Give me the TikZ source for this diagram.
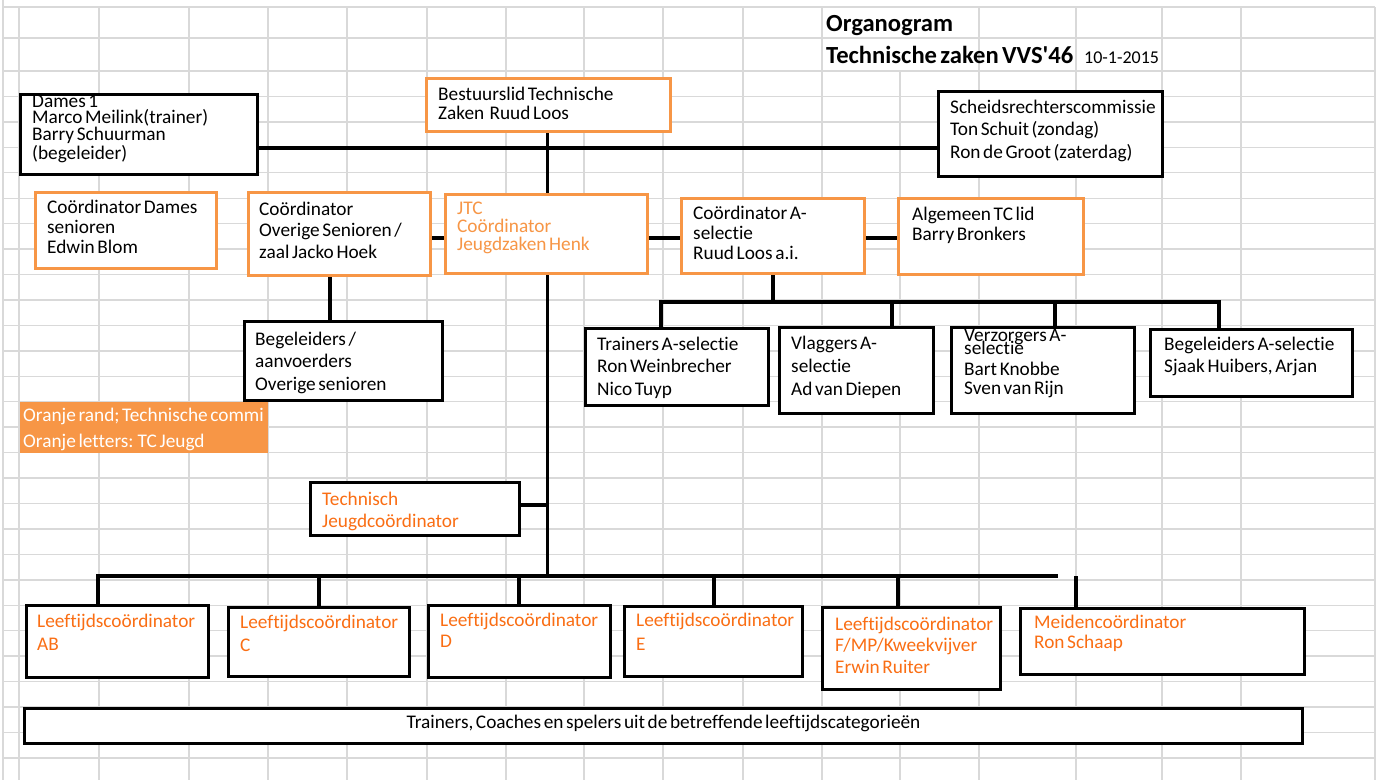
\documentclass[tikz,border=0pt]{standalone}
\usepackage{fontspec}
\setmainfont{Carlito}[WordSpace=0.6, Ligatures=NoCommon]
\definecolor{gridgray}{RGB}{217,217,217}
\definecolor{orgline}{RGB}{247,150,70}
\definecolor{orgtxt}{RGB}{247,150,70}
\definecolor{orgdark}{RGB}{250,110,20}
\definecolor{legendfill}{RGB}{247,150,70}
\newcommand{\tp}{\rule{0pt}{16pt}}
\newcommand{\ebox}[6]{\node[#2, minimum width={#5-#3-3}, minimum height={#6-#4-3}] (#1) at ({(#3+#5)/2},{(#4+#6)/2}) {};}
\begin{document}
\begin{tikzpicture}[x=1pt, y=-1pt,
  gridline/.style={draw=gridgray, line width=1.4pt},
  blk/.style={draw=black, line width=3.2pt, fill=white, inner sep=0pt},
  org/.style={draw=orgline, line width=3pt, fill=white, inner sep=0pt},
  txt/.style={anchor=north west, inner sep=0pt, align=left, font={\fontsize{19.3}{#1}\selectfont\lineskiplimit=-50pt\lineskip=0pt}},
  conn/.style={line width=3.2pt, black}]
\useasboundingbox (0,0) rectangle (1383,780);
\fill[white] (0,0) rectangle (1383,780);
% spreadsheet grid
\foreach \k in {0,...,27} \draw[gridline] (3,{71+25.44*\k}) -- (1375,{71+25.44*\k});
\draw[gridline] (3,7) -- (1375,7);
\draw[gridline] (3,38) -- (1375,38);
\draw[gridline] (3,0) -- (3,780);
\foreach \x in {19,99,189,268,347,427,506,584,663,743,822,979,1076,1162,1241,1375} \draw[gridline] (\x,7) -- (\x,780);
\draw[gridline] (900,71) -- (900,780);

% titles
\node[anchor=base west, inner sep=0pt, font={\fontsize{24.6}{28}\selectfont\bfseries}] (title1) at (826,31) {Organogram};
\node[anchor=base west, inner sep=0pt, font={\fontsize{24.6}{28}\selectfont\bfseries}] (title2) at (826,63) {Technische zaken VVS\textquotesingle 46};
\node[anchor=base west, inner sep=0pt, font={\fontsize{18}{20}\selectfont}] (date) at (1084,63) {10-1-2015};

% boxes
\ebox{dames}{blk}{19}{93}{259}{176}
\ebox{best}{org}{425}{77}{672}{133}
\ebox{scheids}{blk}{937}{90}{1164}{178}
\ebox{cdames}{org}{34}{191}{218}{270}
\ebox{overige}{org}{247}{191}{432}{277}
\ebox{jtc}{org}{444}{193}{649}{275}
\ebox{asel}{org}{680}{197}{866}{275}
\ebox{alg}{org}{897}{197}{1085}{276}
\ebox{begel}{blk}{243}{320}{444}{402}
\ebox{trainers}{blk}{584}{327}{770}{407}
\ebox{vlag}{blk}{778}{326}{935}{415}
\ebox{verz}{blk}{950}{326}{1136}{415}
\ebox{bega}{blk}{1149}{328}{1354}{398}
\node[fill=legendfill, inner sep=0pt, minimum width=248, minimum height=51] (legend) at (144,427.5) {};
\ebox{tjc}{blk}{309}{481}{521}{537}
\ebox{ab}{blk}{25}{604}{210}{679}
\ebox{lc}{blk}{227}{606}{411}{678}
\ebox{ld}{blk}{427}{604}{612}{679}
\ebox{le}{blk}{623}{605}{804}{678}
\ebox{lf}{blk}{821}{606}{1002}{691}
\ebox{meiden}{blk}{1019}{607}{1306}{676}
\ebox{spelers}{blk}{23}{707}{1304}{745}

% connectors
\coordinate (yTop) at (0,148);
\coordinate (yMid) at (0,238);
\coordinate (xMain) at (547.5,0);
\coordinate (bBar) at (0,576);
\draw[conn] (dames.east |- yTop) -- (scheids.west |- yTop);
\draw[conn] (xMain |- best.south) -- (xMain |- jtc.north);
\draw[conn] (xMain |- jtc.south) -- (xMain |- bBar);
\draw[conn] (overige.east |- yMid) -- (jtc.west |- yMid);
\draw[conn] (jtc.east |- yMid) -- (asel.west |- yMid);
\draw[conn] (asel.east |- yMid) -- (alg.west |- yMid);
\coordinate (xBeg) at (330,0);
\draw[conn] (xBeg |- overige.south) -- (xBeg |- begel.north);
\coordinate (aL) at (661,302);
\coordinate (aR) at (1219,302);
\coordinate (aV) at (892,302);
\coordinate (aZ) at (1055,302);
\draw[conn] (asel.south) -- (asel.south |- aL);
\draw[conn] (aL |- trainers.north) -- (aL) -- (aR) -- (aR |- bega.north);
\draw[conn] (aV) -- (aV |- vlag.north);
\draw[conn] (aZ) -- (aZ |- verz.north);
\coordinate (yT) at (0,505);
\draw[conn] (tjc.east |- yT) -- (xMain |- yT);
\coordinate (bL) at (98,576);
\coordinate (bR) at (1058,576);
\coordinate (bC) at (319,576);
\coordinate (bD) at (519,576);
\coordinate (bE) at (714,576);
\coordinate (bF) at (898,576);
\coordinate (bM) at (1076,576);
\draw[conn] (bL |- ab.north) -- (bL) -- (bR);
\draw[conn] (bC) -- (bC |- lc.north);
\draw[conn] (bD) -- (bD |- ld.north);
\draw[conn] (bE) -- (bE |- le.north);
\draw[conn] (bF) -- (bF |- lf.north);
\draw[conn] (bM) -- (bM |- meiden.north);

% texts
\node[txt=16] (t-dames) at (32,91) {\tp Dames 1\\Marco Meilink(trainer)\\[1pt]Barry Schuurman\\[3pt](begeleider)};
\node[txt=19.5] (t-best) at (438,84) {\tp Bestuurslid Technische\\Zaken\ \ Ruud Loos};
\node[txt=22.5] (t-scheids) at (950,97) {\tp Scheidsrechterscommissie\\Ton Schuit (zondag)\\Ron de Groot (zaterdag)};
\node[txt=20] (t-cdames) at (47,197) {\tp Coördinator Dames\\senioren\\Edwin Blom};
\node[txt=21.5] (t-overige) at (259,199) {\tp Coördinator\\Overige Senioren /\\zaal Jacko Hoek};
\node[txt=18, text=orgtxt] (t-jtc) at (457,198) {\tp JTC\\Coördinator\\Jeugdzaken Henk};
\node[txt=20] (t-asel) at (693,203) {\tp Coördinator A-\\selectie\\Ruud Loos a.i.};
\node[txt=20] (t-alg) at (912,204) {\tp Algemeen TC lid\\Barry Bronkers};
\node[txt=22.5] (t-begel) at (255,329) {\tp Begeleiders /\\aanvoerders\\Overige senioren};
\begin{scope}
\clip (20,402) rectangle (268,453);
\node[txt=25.5, text=white] (t-legend) at (23,405.5) {\tp Oranje rand; Technische commi\\Oranje letters: TC Jeugd};
\end{scope}
\node[txt=22.5, text=orgdark] (t-tjc) at (322,489) {\tp Technisch\\Jeugdcoördinator};
\node[txt=22.5] (t-trainers) at (597,334) {\tp Trainers A-selectie\\Ron Weinbrecher\\Nico Tuyp};
\node[txt=22.7] (t-vlag) at (791,333.5) {\tp Vlaggers A-\\selectie\\Ad van Diepen};
\node[txt=13] (t-verz) at (964,325.5) {\tp Verzorgers A-\\selectie\\[7.5pt]Bart Knobbe\\[6pt]Sven van Rijn};
\node[txt=22] (t-bega) at (1164,334.5) {\tp Begeleiders A-selectie\\Sjaak Huibers, Arjan};
\node[txt=23, text=orgdark] (t-ab) at (37,611) {\tp Leeftijdscoördinator\\AB};
\node[txt=23.3, text=orgdark] (t-lc) at (240,612) {\tp Leeftijdscoördinator\\C};
\node[txt=20.7, text=orgdark] (t-ld) at (440,610.5) {\tp Leeftijdscoördinator\\D};
\node[txt=23.3, text=orgdark] (t-le) at (636,610.5) {\tp Leeftijdscoördinator\\E};
\node[txt=21.7, text=orgdark] (t-lf) at (835,614) {\tp Leeftijdscoördinator\\F/MP/Kweekvijver\\Erwin Ruiter};
\node[txt=20, text=orgdark] (t-meiden) at (1034,612) {\tp Meidencoördinator\\Ron Schaap};
\node[anchor=base, inner sep=0pt, font={\fontsize{19.3}{22}\selectfont}] (t-spelers) at (663.5,728.5) {Trainers, Coaches en spelers uit de betreffende leeftijdscategorieën};
\end{tikzpicture}
\end{document}
